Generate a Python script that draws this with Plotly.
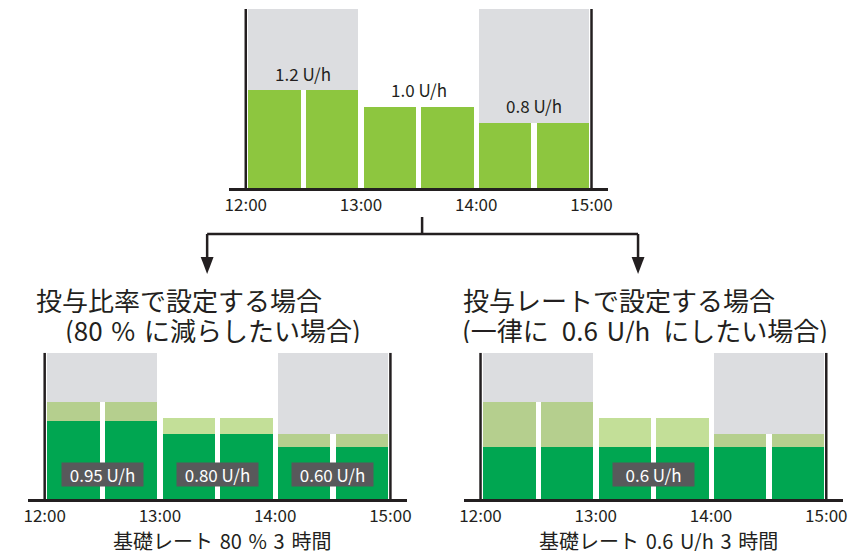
import plotly.graph_objects as go

# ── data ─────────────────────────────────────────────
HOURS       = [12, 13, 14, 15]
HOUR_TEXT   = ["12:00", "13:00", "14:00", "15:00"]
HOUR_MIDS   = [12.5, 13.5, 14.5]
HALF_HOURS  = [12.25, 12.75, 13.25, 13.75, 14.25, 14.75]
GREY_HOURS  = [12.5, 14.5]

BASE_HOURLY = [1.2, 1.0, 0.8]
BASE_RATE   = [1.2, 1.2, 1.0, 1.0, 0.8, 0.8]
BASE_LABELS = ["1.2 U/h", "1.0 U/h", "0.8 U/h"]

RATIO_RATE   = [0.96, 0.96, 0.80, 0.80, 0.64, 0.64]
RATIO_LABELS = ["0.95 U/h", "0.80 U/h", "0.60 U/h"]

FIXED_RATE   = [0.64, 0.64, 0.64, 0.64, 0.64, 0.64]
FIXED_LABELS = ["0.6 U/h"]
FIXED_LABEL_AT = [13.5]

SP, WSP = "\u2004", "\u2002"   # wider spaces, as in the artwork
TITLE_LEFT  = ["投与比率で設定する場合", f"(80{SP}%{SP}に減らしたい場合)"]
TITLE_RIGHT = ["投与レートで設定する場合", f"(一律に{WSP}0.6{SP}U/h{WSP}にしたい場合)"]
AXIS_LEFT   = f"基礎レート{SP}80{SP}%{SP}3{SP}時間"
AXIS_RIGHT  = f"基礎レート{SP}0.6{SP}U/h{SP}3{SP}時間"

# ── style ────────────────────────────────────────────
# the page body has an 8px margin, so the figure starts at (8, 8)
OFF = 8
W, H = 857 - OFF, 555 - OFF
FONT = "Noto Sans CJK JP"
C = {
    "text":  "#231f20",
    "grey":  "#dcdde0",
    "green": "#8dc63f",
    "dark":  "#00a651",
    "sage":  "#b5cf8e",
    "pale":  "#c3df98",
    "box":   "#58595b",
}
PALE_COLORS = [C["sage"], C["sage"], C["pale"], C["pale"], C["sage"], C["sage"]]
GAP = 0.045
XRANGE = [11.854, 15.146]


def px(x, y):
    # screen pixel -> paper fraction
    return (x - OFF) / W, 1 - (y - OFF) / H


fig = go.Figure()

# panel id -> (x domain px, y domain px, top of grey)
PANELS = {
    "":  ((227, 610), (188, 9), 2.2),
    "2": ((24, 407), (499.3, 352.7), 1.8),
    "3": ((464, 847), (499.3, 352.7), 1.8),
}


def bars(n, x, y, width, color):
    fig.add_trace(go.Bar(
        x=x, y=y, width=width, marker=dict(color=color, line=dict(width=0)),
        xaxis="x" + n, yaxis="y" + n, hoverinfo="skip", showlegend=False,
    ))


for n, (xd, yd, top) in PANELS.items():
    bars(n, GREY_HOURS, [top] * len(GREY_HOURS), 1 - GAP, C["grey"])
    bars(n, HOUR_MIDS, BASE_HOURLY, 1.0, "white")
    if n == "":
        bars(n, HALF_HOURS, BASE_RATE, 0.5 - GAP, C["green"])
    else:
        bars(n, HALF_HOURS, BASE_RATE, 0.5 - GAP, PALE_COLORS)
        bars(n, HALF_HOURS, RATIO_RATE if n == "2" else FIXED_RATE, 0.5 - GAP, C["dark"])

    x0, _ = px(xd[0], 0)
    x1, _ = px(xd[1], 0)
    _, y0 = px(0, yd[0])
    _, y1 = px(0, yd[1])
    fig.update_layout(**{
        "xaxis" + n: dict(
            domain=[x0, x1], range=XRANGE, showgrid=False, zeroline=False,
            showline=True, linecolor=C["text"], linewidth=2.5,
            tickvals=HOURS, ticktext=HOUR_TEXT, ticks="",
            ticklabelstandoff=0,
            tickfont=dict(size=17, color=C["text"], family=FONT),
            anchor="y" + n, fixedrange=True,
        ),
        "yaxis" + n: dict(
            domain=[y0, y1], range=[0, top], visible=False,
            anchor="x" + n, fixedrange=True,
        ),
    })
    # side borders at 12:00 and 15:00
    for hx in (HOURS[0], HOURS[-1]):
        fig.add_shape(type="line", xref="x" + n, yref="y" + n,
                      x0=hx, x1=hx, y0=0, y1=top,
                      line=dict(color=C["text"], width=2.5), layer="above")

# labels on top chart
for xm, v, t in zip(HOUR_MIDS, BASE_HOURLY, BASE_LABELS):
    fig.add_annotation(x=xm, y=v, xref="x", yref="y", text=t, showarrow=False,
                       yanchor="middle", yshift=17,
                       font=dict(size=17, color=C["text"], family=FONT))

# dark label boxes on bottom charts
def boxes(n, xs, labels):
    for xm, t in zip(xs, labels):
        fig.add_annotation(x=xm, y=0.307, xref="x" + n, yref="y" + n, text=t,
                           showarrow=False, yanchor="middle",
                           bgcolor=C["box"], width=79, height=21, borderpad=1,
                           font=dict(size=17, color="white", family=FONT))

boxes("2", HOUR_MIDS, RATIO_LABELS)
boxes("3", FIXED_LABEL_AT, FIXED_LABELS)

# axis captions
for xc, t in ((220, AXIS_LEFT), (661, AXIS_RIGHT)):
    fx, fy = px(xc, 540)
    fig.add_annotation(x=fx, y=fy, xref="paper", yref="paper", text=t,
                       showarrow=False, xanchor="center", yanchor="middle",
                       height=22, borderpad=0,
                       font=dict(size=20, color=C["text"], family=FONT))

# headings
for (xl, yl, t) in ((31, 299, TITLE_LEFT[0]), (60, 329, TITLE_LEFT[1]),
                    (462, 299, TITLE_RIGHT[0]), (461, 329, TITLE_RIGHT[1])):
    fx, fy = px(xl, yl)
    fig.add_annotation(x=fx, y=fy, xref="paper", yref="paper", text=t,
                       showarrow=False, xanchor="left", yanchor="middle",
                       height=28, borderpad=0,
                       font=dict(size=26, color=C["text"], family=FONT))

# branching arrows
LINE = dict(color=C["text"], width=2.5)
for (ax, ay, bx, by) in ((422, 217, 422, 234), (205, 234, 640, 234),
                         (205, 234, 205, 262), (640, 234, 640, 262)):
    a, b = px(ax, ay)
    c, d = px(bx, by)
    fig.add_shape(type="line", xref="paper", yref="paper",
                  x0=a, y0=b, x1=c, y1=d, line=LINE)
for tx in (205, 640):
    p1 = px(tx - 6.5, 257)
    p2 = px(tx + 6.5, 257)
    p3 = px(tx, 274)
    fig.add_shape(type="path", xref="paper", yref="paper",
                  path=f"M {p1[0]},{p1[1]} L {p2[0]},{p2[1]} L {p3[0]},{p3[1]} Z",
                  fillcolor=C["text"], line=dict(width=0))

fig.update_layout(
    width=W, height=H,
    margin=dict(l=0, r=0, t=0, b=0),
    paper_bgcolor="white", plot_bgcolor="rgba(0,0,0,0)",
    barmode="overlay", bargap=0,
    font=dict(family=FONT, color=C["text"]),
    showlegend=False,
)

fig.write_html("out.html", config=dict(displayModeBar=False))
